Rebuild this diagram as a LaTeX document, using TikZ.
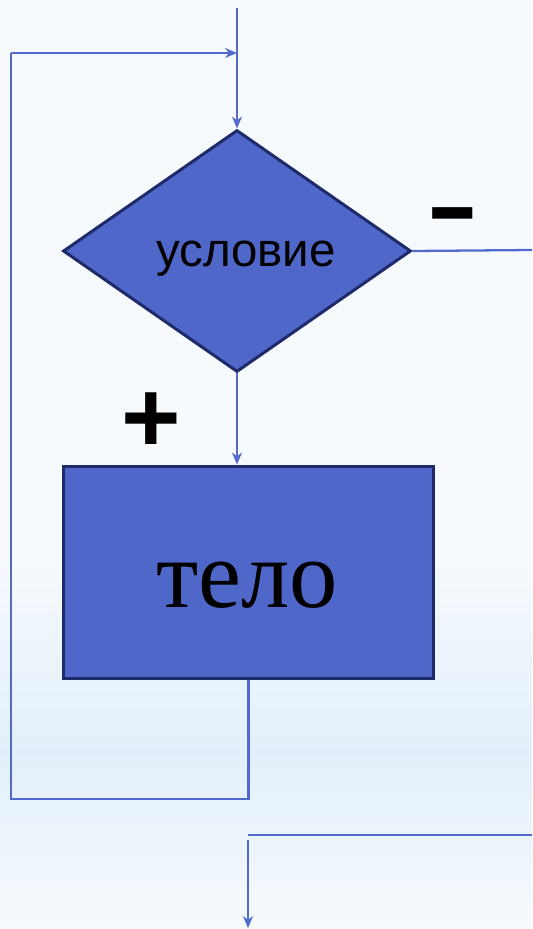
\documentclass[tikz,border=0pt]{standalone}
\usepackage{fontspec}
\setmainfont{Liberation Serif}
\setsansfont{Liberation Sans}
\usetikzlibrary{shapes.geometric,arrows.meta}

\definecolor{blockfill}{RGB}{79,103,200}
\definecolor{blockline}{RGB}{30,42,105}
\definecolor{flowline}{RGB}{82,106,206}
\definecolor{bgtop}{RGB}{246,250,253}
\definecolor{bgband}{RGB}{226,239,250}

\tikzset{
  block/.style = {draw=blockline, line width=1.7pt, fill=blockfill, inner sep=0pt},
  flow/.style = {draw=flowline, line width=1.3pt},
  arr/.style = {flow, -{Stealth[length=2.4mm, width=2mm]}},
  sign/.style = {inner sep=0pt, font=\sffamily\bfseries\fontsize{58}{60}\selectfont}
}

\begin{document}
\begin{tikzpicture}[x=0.02cm, y=-0.02cm]
	% background
	\useasboundingbox (0,0) rectangle (532,929);
	\fill[bgtop] (0,0) rectangle (532,560);
	\shade[top color=bgtop, bottom color=bgband] (0,560) rectangle (532,752);
	\shade[top color=bgband, bottom color=bgtop] (0,752) rectangle (532,929);

	\node[block, diamond, minimum width=6.96cm, minimum height=4.84cm] (cond) at (237,251) {};
	\node[anchor=base, font=\sffamily\fontsize{27}{30}\selectfont] (condtext) at (246,266) {условие};

	\node[block, rectangle, minimum width=7.42cm, minimum height=4.26cm] (body) at (248.5,572.5) {};
	\node[anchor=base, font=\fontsize{55}{60}\selectfont] (bodytext) at (247,607) {тело};

	\node[sign, anchor=north] (plus) at (151,392) {+};
	\node[sign, anchor=north] (minus) at (453,207) {\scalebox{1.55}[0.95]{-}};

	\coordinate (start) at (237,8);
	\coordinate (join) at (237,53);
	\coordinate (loopturn) at (11,53);
	\coordinate (back) at (11,799);
	\coordinate (noend) at (532,250);
	\coordinate (noret) at (532,835);
	\coordinate (exitin) at (248,835);
	\coordinate (exitstart) at (248,840);
	\coordinate (exitend) at (248,928);

	\draw[arr] (start) -- (cond.north);
	\draw[arr] (cond.south) -- (cond.south |- body.north);
	\draw[flow] (body.south) |- (back) -- (loopturn);
	\draw[arr] (loopturn) -- (join);
	\draw[flow] (cond.east) -- (noend);
	\draw[flow] (noret) -- (exitin);
	\draw[arr] (exitstart) -- (exitend);
\end{tikzpicture}
\end{document}
